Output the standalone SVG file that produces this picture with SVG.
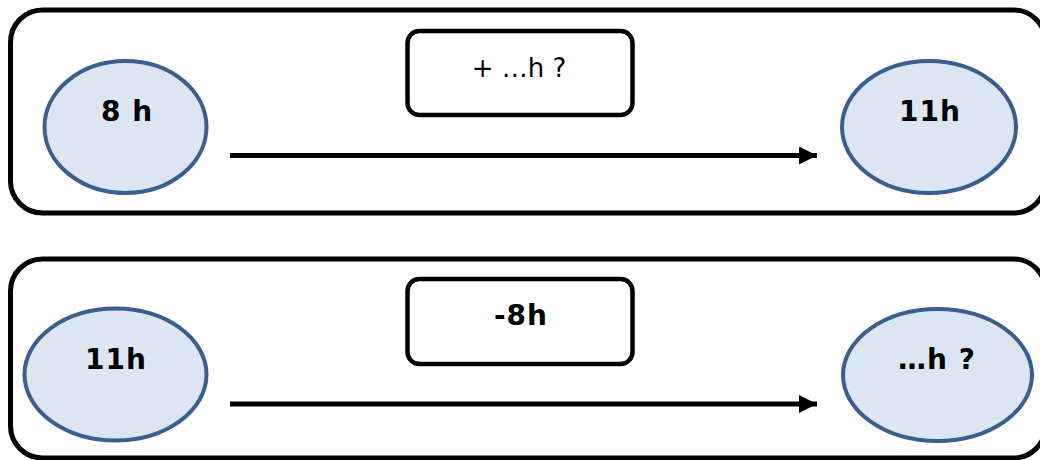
<svg xmlns="http://www.w3.org/2000/svg" width="1040" height="460" viewBox="0 0 1040 460">
<defs>
<style>
.panel{fill:#fff;stroke:#000;stroke-width:5}
.box{fill:#fff;stroke:#000;stroke-width:4.5}
.ell{fill:#DCE6F2;stroke:#3A5F8F;stroke-width:4}
.t{font-family:"DejaVu Sans",Verdana,sans-serif;font-size:26px;text-anchor:middle;fill:#000}
.b{font-weight:bold;font-size:28px;letter-spacing:1px}
.conn{stroke:#000;stroke-width:5;fill:none}
</style>
<marker id="arr" markerUnits="userSpaceOnUse" markerWidth="20" markerHeight="20" refX="18" refY="9" orient="auto">
<path d="M0,0 L18,9 L0,18 Z" fill="#000"/>
</marker>
</defs>
<g id="panel1"><rect class="panel" x="10.5" y="10" width="1035" height="203" rx="32"/></g>
<g id="panel2"><rect class="panel" x="10.5" y="259" width="1035" height="199" rx="32"/></g>
<g id="connectors">
<line class="conn" x1="230" y1="155.5" x2="817" y2="155.5" marker-end="url(#arr)"/>
<line class="conn" x1="230" y1="404" x2="817" y2="404" marker-end="url(#arr)"/>
</g>
<g id="n8h"><ellipse class="ell" cx="125.5" cy="127" rx="81" ry="66"/><text class="t b" x="127" y="121">8 h</text></g>
<g id="n11h_top"><ellipse class="ell" cx="929" cy="127" rx="87" ry="66"/><text class="t b" x="930" y="121">11h</text></g>
<g id="op_top"><rect class="box" x="407.5" y="31" width="225" height="84" rx="12"/><text class="t" x="519" y="77">+ …h ?</text></g>
<g id="n11h_bot"><ellipse class="ell" cx="115.5" cy="374.5" rx="91" ry="66"/><text class="t b" x="116" y="369">11h</text></g>
<g id="nq_bot"><ellipse class="ell" cx="937.5" cy="375" rx="94.5" ry="66"/><text class="t b" x="937" y="369">…h ?</text></g>
<g id="op_bot"><rect class="box" x="407.5" y="279" width="225" height="85" rx="12"/><text class="t b" x="521" y="325">-8h</text></g>
</svg>
